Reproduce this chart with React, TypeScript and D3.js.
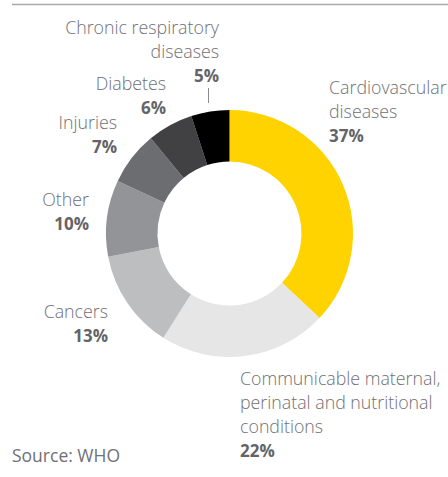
import React from "react";
import * as d3 from "d3";

const categories = [
  "Cardiovascular diseases",
  "Communicable maternal, perinatal and nutritional conditions",
  "Cancers",
  "Other",
  "Injuries",
  "Diabetes",
  "Chronic respiratory diseases",
];
const values = [37, 22, 13, 10, 7, 6, 5];
const labelLines = [
  ["Cardiovascular", "diseases"],
  ["Communicable maternal,", "perinatal and nutritional", "conditions"],
  ["Cancers"],
  ["Other"],
  ["Injuries"],
  ["Diabetes"],
  ["Chronic respiratory", "diseases"],
];
const colors = ["#FFD300", "#E6E6E7", "#BDBEC0", "#939497", "#6C6D70", "#414143", "#000000"];
const sourceText = "Source: WHO";

// label layout: anchor x, first baseline y, text-anchor
const labelLayout = [
  { x: 329, y: 94, anchor: "start" },
  { x: 240, y: 385, anchor: "start" },
  { x: 108, y: 318, anchor: "end" },
  { x: 89, y: 206, anchor: "end" },
  { x: 117, y: 129, anchor: "end" },
  { x: 166, y: 90, anchor: "end" },
  { x: 219, y: 34, anchor: "end" },
];

const W = 448;
const H = 477;
const cx = 229.5;
const cy = 233.5;
const outerR = 123.5;
const innerR = 72;
const lineH = 24;
const font = "'Open Sans', 'Noto Sans', sans-serif";
const textColor = "#707075";
const boldColor = "#646468";

export default function App() {
  const pie = d3.pie<number>().sort(null).value((d) => d)(values);
  const arc = d3.arc<d3.PieArcDatum<number>>().innerRadius(innerR).outerRadius(outerR);

  return (
    <svg width={W} height={H} style={{ position: "absolute", left: 0, top: 0 }} fontFamily={font}>
      <line x1={12} x2={W} y1={4.5} y2={4.5} stroke="#a8a8aa" strokeWidth={1.5} />
      <g transform={`translate(${cx},${cy})`}>
        {pie.map((p, i) => (
          <path key={categories[i]} d={arc(p) || ""} fill={colors[i]} />
        ))}
      </g>
      {/* leader line for smallest slice */}
      <line x1={208.5} x2={208.5} y1={88} y2={103} stroke="#8a8a8e" strokeWidth={1} />
      {labelLines.map((lines, i) => {
        const L = labelLayout[i];
        return (
          <text key={categories[i]} x={L.x} y={L.y} textAnchor={L.anchor as any} fontSize={17.8} fill={textColor} fontWeight={300}>
            {lines.map((ln, j) => (
              <tspan key={j} x={L.x} y={L.y + j * lineH}>
                {ln}
              </tspan>
            ))}
            <tspan x={L.x} y={L.y + lines.length * lineH} fontSize={17} fontWeight={700} fill={boldColor}>
              {values[i]}%
            </tspan>
          </text>
        );
      })}
      <text x={12} y={462} fontSize={17.5} fill={textColor} fontWeight={400}>
        {sourceText}
      </text>
    </svg>
  );
}
